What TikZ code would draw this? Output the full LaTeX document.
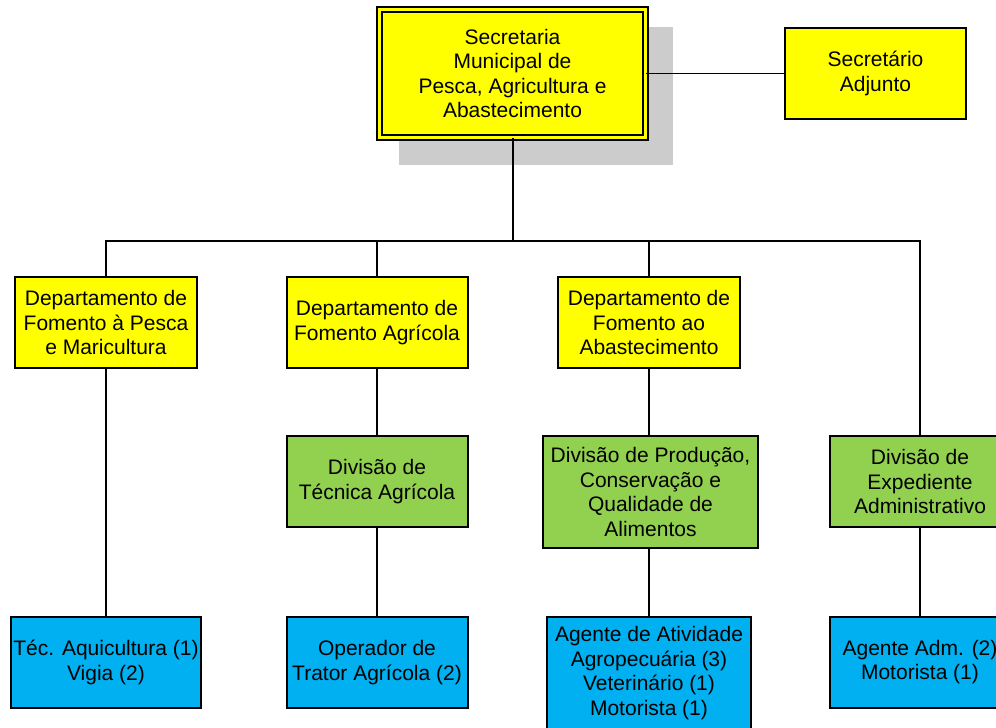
\documentclass[tikz,border=0pt]{standalone}
\usepackage{fontspec}
\setmainfont{Liberation Sans}
\definecolor{boxyellow}{HTML}{FFFF00}
\definecolor{boxgreen}{HTML}{92D050}
\definecolor{boxblue}{HTML}{00B0F0}
\definecolor{shadowgray}{HTML}{CCCCCC}
\tikzset{
  orgbox/.style={draw=black, line width=2pt, inner sep=0pt, align=center,
    font=\fontsize{21}{24.5}\selectfont},
  ybox/.style={orgbox, fill=boxyellow},
  gbox/.style={orgbox, fill=boxgreen},
  bbox/.style={orgbox, fill=boxblue},
  conn/.style={draw=black, line width=1.8pt},
  thickconn/.style={draw=black, line width=2.8pt},
}
\begin{document}
\begin{tikzpicture}[x=1pt, y=-1pt]
\clip (0,0) rectangle (996,728);
\fill[white] (0,0) rectangle (996,728);

% shadow of top box
\fill[shadowgray] (399,27) rectangle (673,165);

% top box
\node[orgbox, fill=boxyellow, line width=1.9pt, double=boxyellow, double distance=2.6pt,
      minimum width=266pt, minimum height=128pt] (sec) at (512.5,73.5)
  {Secretaria\\Municipal de\\Pesca, Agricultura e\\Abastecimento};
\node[ybox, minimum width=181pt, minimum height=91pt] (adj) at (875.5,73.5)
  {Secretário\\Adjunto};

% departments
\node[ybox, minimum width=182pt, minimum height=91pt] (d1) at (106,322.5)
  {Departamento de\\Fomento à Pesca\\e Maricultura};
\node[ybox, minimum width=181pt, minimum height=91pt] (d2) at (377,322.5)
  {Departamento de\\Fomento Agrícola};
\node[ybox, minimum width=182pt, minimum height=91pt] (d3) at (649,322.5)
  {Departamento de\\Fomento ao\\Abastecimento};

% divisions
\node[gbox, minimum width=181pt, minimum height=91pt] (v2) at (377,481.5)
  {Divisão de\\Técnica Agrícola};
\node[gbox, minimum width=215pt, minimum height=112pt] (v3) at (650.5,492)
  {Divisão de Produção,\\Conservação e\\Qualidade de\\Alimentos};
\node[gbox, minimum width=180pt, minimum height=91pt] (v4) at (920,481.5)
  {Divisão de\\Expediente\\Administrativo};

% staff
\node[bbox, minimum width=190pt, minimum height=91pt] (b1) at (106,662.5)
  {Téc. Aquicultura (1)\\Vigia (2)};
\node[bbox, minimum width=181pt, minimum height=91pt] (b2) at (377,662.5)
  {Operador de\\Trator Agrícola (2)};
\node[bbox, minimum width=204pt, minimum height=112pt] (b3) at (649,673)
  {Agente de Atividade\\Agropecuária (3)\\Veterinário (1)\\Motorista (1)};
\node[bbox, minimum width=180pt, minimum height=91pt] (b4) at (920,662)
  {Agente Adm. (2)\\Motorista (1)};

% bus
\coordinate (bus) at (513,241);
\coordinate (bus1) at (d1.north |- bus);
\coordinate (bus2) at (d2.north |- bus);
\coordinate (bus3) at (d3.north |- bus);
\coordinate (bus4) at (v4.north |- bus);

% connectors
\draw[conn] (sec.east) -- (adj.west);
\draw[thickconn] (sec.south -| bus) -- (bus);
\draw[thickconn] (bus2) -- (bus3);
\draw[conn] (d1.north) |- (bus2);
\draw[conn] (bus2) -- (d2.north);
\draw[conn] (d3.north) -- (bus3) -- (bus4) -- (v4.north);

\draw[conn] (d1.south) -- (b1.north);
\draw[conn] (d2.south) -- (v2.north);
\draw[conn] (v2.south) -- (b2.north);
\draw[conn] (d3.south) -- (d3.south |- v3.north);
\draw[conn] (v3.south -| b3.north) -- (b3.north);
\draw[conn] (v4.south) -- (b4.north);
\end{tikzpicture}
\end{document}
